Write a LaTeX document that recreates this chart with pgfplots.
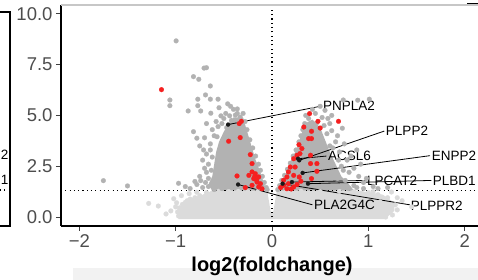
\documentclass[border=0pt]{standalone}
\usepackage{pgfplots}
\pgfplotsset{compat=1.18}
\usepackage{fontspec}
\setmainfont{Liberation Sans}
\definecolor{lgray}{RGB}{219,219,219}
\definecolor{dgray}{RGB}{178,178,178}
\definecolor{sred}{RGB}{245,32,32}
\definecolor{tickgray}{RGB}{77,77,77}
\newcommand{\lab}{\fontsize{13.5bp}{15bp}\selectfont}
\begin{document}
\begin{tikzpicture}
\useasboundingbox (0bp,0bp) rectangle (478bp,280bp);
\fill[black!5] (73bp,0bp) rectangle (478bp,12bp);
% right edge of a neighbouring panel
\draw[line width=1.6bp] (0bp,268bp) -- (10bp,268bp) -- (10bp,54bp) -- (0bp,54bp);
\node[anchor=east, inner sep=0, font=\lab] at (8.5bp,125bp) {2};
\node[anchor=east, inner sep=0, font=\lab] at (8.5bp,100bp) {1};
\draw[line width=1.1bp, dash pattern=on 1.1bp off 3.2bp] (0bp,90bp) -- (8bp,90bp);
\fill[black] (467bp,274bp) rectangle (478bp,277bp);
\begin{axis}[
  at={(272bp,63bp)}, anchor=origin,
  scale only axis, width=422bp, height=221bp,
  xmin=-2.19, xmax=2.19, ymin=-0.44, ymax=10.44,
  clip=false,
  axis x line*=bottom, axis y line*=left,
  axis line style={line width=1.6bp, black},
  xtick={-2,-1,0,1,2}, xticklabels={−2,−1,0,1,2},
  ytick={0,2.5,5,7.5,10}, yticklabels={0.0,2.5,5.0,7.5,10.0},
  tick align=outside, major tick length=5bp,
  tick style={line width=0.9bp, black!75},
  ticklabel style={font=\fontsize{18.5bp}{20bp}\selectfont, text=tickgray},
  xlabel={log2(foldchange)},
  xlabel style={font=\fontsize{20bp}{22bp}\selectfont\bfseries, yshift=-3bp},
  lg/.style={only marks, mark=*, mark size=2.4bp, mark options={draw=lgray, fill=lgray, line width=0.2bp}},
  dg/.style={only marks, mark=*, mark size=2.4bp, mark options={draw=dgray, fill=dgray, line width=0.2bp}},
  rd/.style={only marks, mark=*, mark size=2.4bp, mark options={draw=sred, fill=sred, line width=0.2bp}},
]
% non-significant dense cloud
\addplot[fill=lgray, draw=none] coordinates {
(-0.97,-0.1) (-0.98,0.4) (-0.92,0.7) (-0.82,0.95) (-0.72,1.1) (-0.62,1.3)
(-0.05,1.3) (-0.015,0.3) (0,0.15) (0.015,0.3) (0.05,1.3) (0.9,1.3)
(1.15,1.1) (1.27,0.7) (1.27,0.3) (1.17,-0.1)} -- cycle;
\addplot[lg] coordinates {
(-0.97,0.05) (-0.98,0.25) (-0.96,0.45) (-0.93,0.62) (-0.88,0.8) (-0.8,0.95)
(-0.75,1.05) (-0.68,1.2) (-0.9,0.72) (-0.85,0.88) (-1.28,0.67) (-1.18,0.54)
(-0.99,0.7) (-1.05,0.3) (-1.02,0.9) (-1.1,0.15) (-0.55,1.27) (-0.45,1.25)
(-0.35,1.26) (-0.25,1.24) (-0.15,1.25) (0.15,1.25) (0.3,1.27) (0.5,1.25)
(0.7,1.26) (0.85,1.24) (1.0,1.2) (1.1,1.1) (1.2,0.95) (1.24,1.23) (1.12,0.74)
(1.28,0.6) (1.3,0.35) (1.25,0.1) (1.18,0.0) (1.35,0.8) (1.45,0.5)
(-0.94,1.05) (-0.86,1.15) (-0.78,1.22) (-1.0,0.5) (1.05,1.25) (1.3,0.95)};
% significant, dark grey
\addplot[fill=dgray, draw=none] coordinates {
(-0.62,1.3) (-0.66,1.6) (-0.62,2.0) (-0.6,2.6) (-0.58,3.2) (-0.55,3.7)
(-0.5,4.2) (-0.45,4.6) (-0.4,4.9) (-0.3,4.9) (-0.27,4.4) (-0.22,3.6)
(-0.17,2.8) (-0.12,2.2) (-0.08,1.6) (-0.06,1.3)} -- cycle;
\addplot[fill=dgray, draw=none] coordinates {
(0.06,1.3) (0.1,1.7) (0.15,2.2) (0.2,2.8) (0.26,3.4) (0.3,4.0) (0.34,4.6)
(0.42,4.8) (0.5,4.4) (0.55,3.8) (0.6,3.2) (0.66,2.6) (0.72,2.0) (0.8,1.6)
(0.85,1.3)} -- cycle;
\addplot[dg] coordinates {
(-0.995,8.67) (-0.705,7.33) (-0.68,7.35) (-0.815,6.91) (-0.76,6.78) (-0.64,6.45)
(-1.06,5.76) (-1.06,5.48) (-0.69,6.01) (-0.77,5.8) (-0.64,5.8) (-0.56,5.8)
(-0.87,5.22) (-0.77,5.48) (-0.74,5.22) (-0.635,5.11) (-0.55,5.38) (-0.46,5.57)
(-0.43,5.45) (-0.4,5.3) (-0.36,5.32) (-0.48,5.1) (-0.5,4.85) (-0.53,4.98)
(-0.44,4.98) (-0.38,5.02) (-0.33,4.92) (-0.3,5.1) (-0.42,4.75) (-0.35,4.75)
(-0.815,4.2) (-0.78,3.88) (-0.71,3.3) (-0.54,3.17) (-0.97,1.66) (-0.74,1.79)
(-1.75,1.79) (-1.5,1.53) (-0.78,1.6) (-0.68,2.2) (-0.66,2.6) (-0.64,3.6)
(-0.6,4.0) (-0.56,4.45) (-0.62,2.95) (-0.66,1.9) (-0.72,1.45) (-0.85,1.4)
(-0.9,1.5) (-0.6,1.35) (-0.58,4.7) (-0.62,4.3) (-0.68,4.6) (-0.7,3.9)
(-0.75,3.5) (-0.72,2.8) (-0.7,2.4) (-0.75,2.0) (-0.8,1.75) (-0.66,1.5) (-0.68,3.1)
(-0.28,4.7) (-0.26,4.3) (-0.23,3.8) (-0.2,3.4) (-0.17,3.0) (-0.14,2.6)
(-0.12,2.3) (-0.1,2.0) (-0.08,1.7) (-0.06,1.45) (-0.05,1.35)
(-0.52,4.6) (-0.47,4.4) (-0.36,5.1) (-0.32,4.55) (-0.57,3.95) (-0.64,3.3)
(-0.63,2.3) (-0.69,1.7) (-0.52,1.4) (-0.56,1.6)
(0.74,5.76) (1.01,5.8) (0.89,5.75) (0.73,4.37) (0.62,5.0) (0.55,5.25)
(0.5,5.45) (0.45,5.1) (0.38,4.85) (0.6,4.6) (0.68,4.0) (0.75,3.6) (0.7,3.2)
(0.78,2.8) (0.85,2.4) (0.9,2.0) (0.95,1.7) (1.05,1.5) (0.88,1.45) (0.98,1.9)
(0.82,3.0) (1.1,1.4) (0.8,2.2) (0.62,4.25) (0.66,3.7) (0.35,5.0) (0.42,5.3)
(0.58,4.85) (0.52,4.9) (0.72,2.5) (0.76,1.8) (0.85,1.55) (1.2,1.45) (0.92,2.6)
(0.88,3.3) (0.6,3.5)
(0.06,1.35) (0.08,1.55) (0.1,1.8) (0.13,2.05) (0.16,2.35) (0.19,2.65)
(0.22,3.0) (0.25,3.3) (0.28,3.7) (0.3,4.0) (0.32,4.3) (0.34,4.6)
(0.46,4.6) (0.54,4.5) (0.57,4.1) (0.63,3.4) (0.69,2.8) (0.74,2.3) (0.68,1.9)
(0.8,1.4) (0.72,1.5) (0.95,1.4)};
% highlighted, red
\addplot[rd] coordinates {
(-1.147,6.27) (-0.318,4.71) (-0.34,4.6) (-0.33,3.91) (-0.45,3.73) (-0.225,3.07)
(-0.207,2.63) (-0.207,2.22) (-0.173,2.13) (-0.24,2.05) (-0.19,1.89) (-0.138,1.97)
(-0.155,1.72) (-0.363,2.02) (-0.12,1.64) (-0.277,1.45) (-0.207,1.56) (-0.138,1.48)
(-0.104,1.39) (-0.16,1.82) (-0.18,2.0)
(0.39,5.09) (0.477,4.71) (0.69,4.71) (0.33,4.43) (0.41,4.22) (0.50,4.38)
(0.38,3.86) (0.41,3.86) (0.28,3.56) (0.31,3.37) (0.29,3.12) (0.26,3.04)
(0.40,3.04) (0.225,2.87) (0.40,2.63) (0.466,2.63) (0.19,2.46) (0.24,2.46)
(0.466,2.25) (0.17,2.22) (0.225,2.05) (0.283,1.97) (0.155,1.97) (0.12,1.81)
(0.30,1.76) (0.17,1.64) (0.12,1.56) (0.225,1.48) (0.155,1.39) (0.41,1.89)
(0.09,1.45) (0.2,1.38) (0.26,1.6)};
% thresholds
\addplot[black, line width=1.1bp, dash pattern=on 1.1bp off 3.2bp] coordinates {(-2.19,1.3) (2.19,1.3)};
\addplot[black, line width=1.1bp, dash pattern=on 1.1bp off 3.2bp] coordinates {(0,-0.44) (0,10.3)};
% label segments
\addplot[black, line width=0.8bp] coordinates {(-0.456,4.55) (0.50,5.45)};
\addplot[black, line width=0.8bp] coordinates {(0.283,2.79) (1.165,4.23)};
\addplot[black, line width=0.8bp] coordinates {(0.27,2.87) (0.565,3.0)};
\addplot[black, line width=0.8bp] coordinates {(0.318,2.17) (1.64,3.02)};
\addplot[black, line width=0.8bp] coordinates {(0.207,1.72) (0.97,1.8)};
\addplot[black, line width=0.8bp] coordinates {(0.373,1.64) (1.655,1.8)};
\addplot[black, line width=0.8bp] coordinates {(0.11,1.64) (1.43,0.6)};
\addplot[black, line width=0.8bp] coordinates {(-0.352,1.6) (0.42,0.6)};
% labelled genes
\addplot[only marks, mark=*, mark size=2bp, mark options={draw=black!90, fill=black!90, line width=0.2bp}] coordinates {
(-0.456,4.55) (-0.352,1.6) (0.283,2.79) (0.27,2.87) (0.318,2.17) (0.207,1.72)
(0.11,1.64) (0.373,1.64)};
\node[anchor=west, inner sep=0, font=\lab] at (axis cs:0.528,5.47) {PNPLA2};
\node[anchor=west, inner sep=0, font=\lab] at (axis cs:1.181,4.25) {PLPP2};
\node[anchor=west, inner sep=0, font=\lab] at (axis cs:0.58,3.0) {ACSL6};
\node[anchor=west, inner sep=0, font=\lab] at (axis cs:1.658,3.02) {ENPP2};
\node[anchor=west, inner sep=0, font=\lab] at (axis cs:0.984,1.8) {LPCAT2};
\node[anchor=west, inner sep=0, font=\lab] at (axis cs:1.668,1.8) {PLBD1};
\node[anchor=west, inner sep=0, font=\lab] at (axis cs:0.435,0.59) {PLA2G4C};
\node[anchor=west, inner sep=0, font=\lab] at (axis cs:1.44,0.56) {PLPPR2};
\draw[black!22, line width=1.3bp] (axis cs:-2.19,10.44) -- (axis cs:2.19,10.44);
\end{axis}
\end{tikzpicture}
\end{document}
